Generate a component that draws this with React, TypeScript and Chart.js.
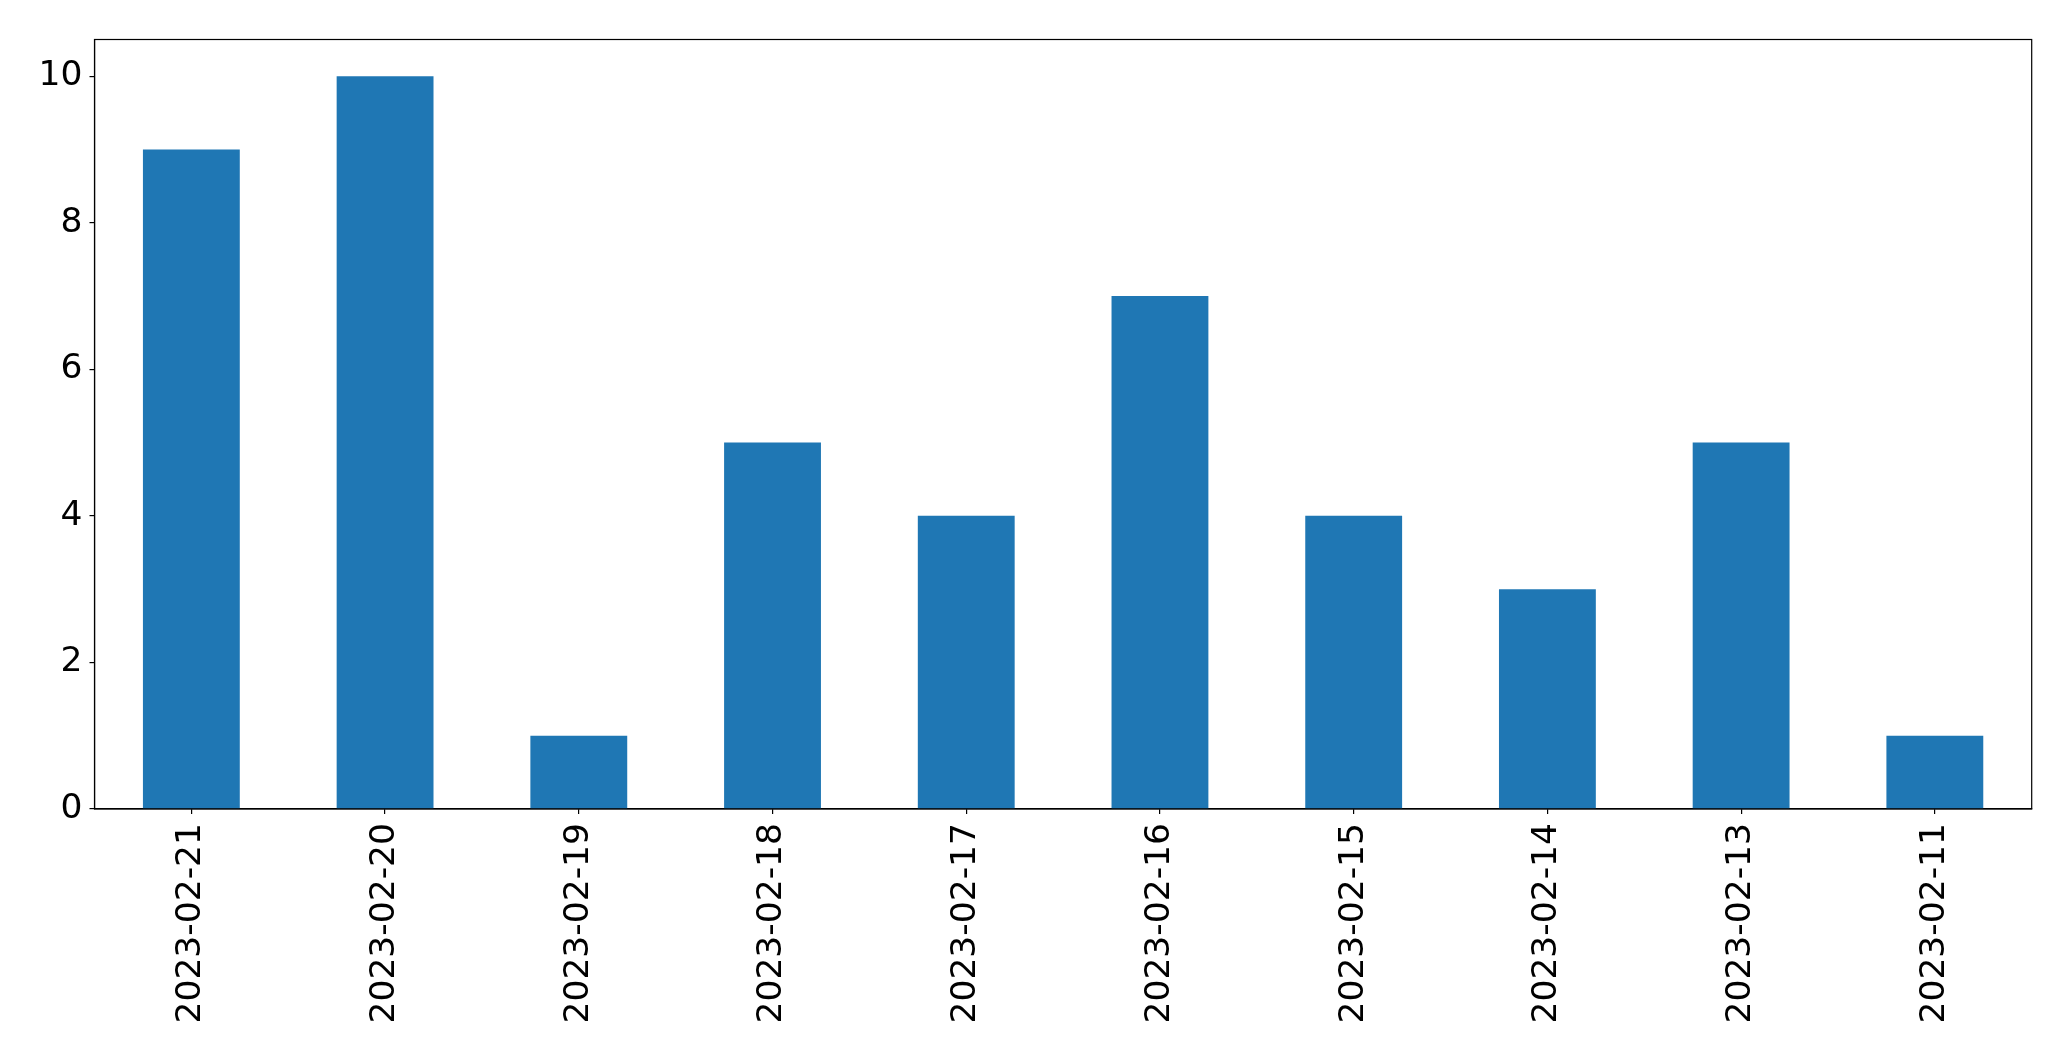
import React, { useEffect, useRef } from "react";
import { Chart, registerables } from "chart.js";

Chart.register(...registerables);

const categories = [
  "2023-02-21",
  "2023-02-20",
  "2023-02-19",
  "2023-02-18",
  "2023-02-17",
  "2023-02-16",
  "2023-02-15",
  "2023-02-14",
  "2023-02-13",
  "2023-02-11",
];
const counts = [9, 10, 1, 5, 4, 7, 4, 3, 5, 1];
const yTickStep = 2;
const yMin = 0;
const yMax = 10.5;

const W = 2071;
const H = 1061;

const frame = {
  id: "frame",
  afterDraw(chart: any) {
    const { ctx, chartArea } = chart;
    ctx.save();
    ctx.strokeStyle = "#000";
    ctx.lineWidth = 1.2;
    ctx.strokeRect(chartArea.left, chartArea.top, chartArea.right - chartArea.left, chartArea.bottom - chartArea.top);
    ctx.restore();
  },
};

export default function App() {
  const ref = useRef<HTMLCanvasElement>(null);
  useEffect(() => {
    document.body.style.margin = "0";
    const font = { family: "DejaVu Sans", size: 34.5 };
    const chart = new Chart(ref.current as HTMLCanvasElement, {
      type: "bar",
      data: {
        labels: categories,
        datasets: [
          {
            data: counts,
            backgroundColor: "#1f77b4",
            borderWidth: 0,
            barPercentage: 0.5,
            categoryPercentage: 1,
          },
        ],
      },
      options: {
        animation: false,
        responsive: false,
        maintainAspectRatio: false,
        layout: { padding: { left: 0, top: 39.5, right: 39.3, bottom: 0 } },
        plugins: { legend: { display: false }, tooltip: { enabled: false } },
        scales: {
          x: {
            offset: true,
            grid: { display: true, drawOnChartArea: false, drawTicks: true, tickLength: 5, color: "#000", offset: false, lineWidth: 1.2 },
            border: { display: true, color: "#000", width: 1.2 },
            ticks: { color: "#000", font, minRotation: 90, maxRotation: 90, padding: 9, autoSkip: false },
            afterFit: (s: any) => {
              s.height = 252;
            },
          },
          y: {
            min: yMin,
            max: yMax,
            grid: { display: true, drawOnChartArea: false, drawTicks: true, tickLength: 5, color: "#000", lineWidth: 1.2 },
            border: { display: true, color: "#000", width: 1.2 },
            ticks: { color: "#000", font, stepSize: yTickStep, includeBounds: false, padding: 7 },
            afterFit: (s: any) => {
              s.width = 94.5;
            },
          },
        },
      },
      plugins: [frame],
    });
    return () => chart.destroy();
  }, []);
  return <canvas ref={ref} width={W} height={H} style={{ display: "block", width: W, height: H }} />;
}
